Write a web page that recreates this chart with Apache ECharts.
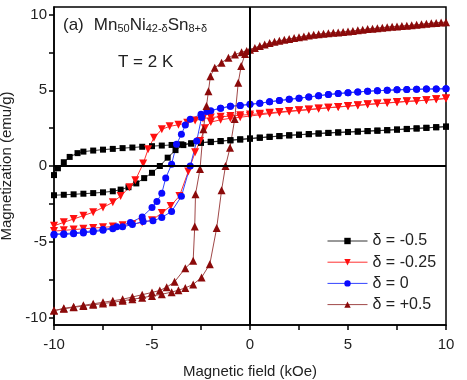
<!DOCTYPE html>
<html><head><meta charset="utf-8">
<script src="https://cdn.jsdelivr.net/npm/echarts@6/dist/echarts.min.js"></script>
<style>html,body{margin:0;padding:0;background:#fff}#c{width:467px;height:380px}</style>
</head><body><div id="c"></div>
<script>
// Series names
const seriesNames = ['δ = -0.5', 'δ = -0.25', 'δ = 0', 'δ = +0.5'];
// Axis tick values
const xTicks = [-10, -7.5, -5, -2.5, 0, 2.5, 5, 7.5, 10];
const xLabels = [-10, -5, 0, 5, 10];
const yTicks = [-10, -7.5, -5, -2.5, 0, 2.5, 5, 7.5, 10];
const yLabels = [-10, -5, 0, 5, 10];

// δ = -0.5 : descending (10 -> -10) and ascending (-10 -> 10) branches [H kOe, M emu/g]
const blackDown = [[10,2.6],[9.5,2.56],[9,2.52],[8.5,2.48],[8,2.45],[7.5,2.41],[7,2.37],[6.5,2.34],[6,2.31],[5.5,2.28],[5,2.25],[4.5,2.22],[4,2.19],[3.5,2.15],[3,2.11],[2.5,2.07],[2,2.03],[1.5,1.98],[1,1.93],[0.5,1.88],[0,1.82],[-0.5,1.76],[-1,1.7],[-1.5,1.64],[-2,1.58],[-2.5,1.53],[-3,1.48],[-3.5,1.43],[-4,1.39],[-4.5,1.35],[-5,1.31],[-5.5,1.27],[-6,1.22],[-6.5,1.18],[-7,1.13],[-7.5,1.08],[-8,1.02],[-8.5,0.95],[-8.8,0.85],[-9.2,0.6],[-9.5,0.25],[-9.8,-0.15],[-10,-0.6]];
const blackUp = [[-10,-1.93],[-9.5,-1.9],[-9,-1.87],[-8.5,-1.83],[-8,-1.79],[-7.5,-1.74],[-7,-1.67],[-6.6,-1.56],[-6.2,-1.4],[-5.8,-1.15],[-5.4,-0.8],[-5,-0.45],[-4.6,0.0],[-4.2,0.55],[-3.8,1.05],[-3.4,1.38],[-3,1.5],[-2.5,1.55],[-2,1.6],[-1.5,1.65],[-1,1.7],[-0.5,1.75],[0,1.8],[0.5,1.86],[1,1.92],[1.5,1.97],[2,2.02],[2.5,2.06],[3,2.1],[3.5,2.14],[4,2.18],[4.5,2.21],[5,2.24],[5.5,2.27],[6,2.3],[6.5,2.33],[7,2.36],[7.5,2.4],[8,2.44],[8.5,2.48],[9,2.52],[9.5,2.56],[10,2.6]];

// δ = -0.25
const redDown = [[10,4.46],[9.5,4.4],[9,4.35],[8.5,4.3],[8,4.27],[7.5,4.22],[7,4.17],[6.5,4.12],[6,4.07],[5.5,4.01],[5,3.96],[4.5,3.9],[4,3.85],[3.5,3.79],[3,3.73],[2.5,3.68],[2,3.63],[1.5,3.57],[1,3.51],[0.5,3.45],[0,3.4],[-0.5,3.35],[-1,3.3],[-1.5,3.25],[-2,3.2],[-2.4,3.14],[-2.8,3.0],[-3.2,2.86],[-3.65,2.72],[-4.1,2.62],[-4.5,2.42],[-4.9,1.87],[-5.2,1.1],[-5.45,0.16],[-5.85,-0.94],[-6.15,-1.4],[-6.6,-1.98],[-7,-2.4],[-7.5,-2.74],[-8,-3.05],[-8.5,-3.28],[-9,-3.5],[-9.5,-3.72],[-10,-3.95]];
const redUp = [[-10,-4.3],[-9.5,-4.25],[-9,-4.2],[-8.5,-4.15],[-8,-4.1],[-7.5,-4.05],[-7,-4.0],[-6.5,-3.92],[-6,-3.85],[-5.5,-3.72],[-5,-3.58],[-4.5,-3.1],[-4.05,-2.64],[-3.6,-1.98],[-3.15,-0.37],[-2.8,0.9],[-2.55,1.65],[-2.3,2.5],[-2,2.9],[-1.5,3.05],[-1,3.15],[-0.5,3.22],[0,3.3],[0.5,3.38],[1,3.46],[1.5,3.53],[2,3.6],[2.5,3.66],[3,3.72],[3.5,3.78],[4,3.84],[4.5,3.9],[5,3.95],[5.5,4.0],[6,4.06],[6.5,4.11],[7,4.16],[7.5,4.21],[8,4.26],[8.5,4.3],[9,4.35],[9.5,4.4],[10,4.46]];

// δ = 0
const blueDown = [[10,5.1],[9.5,5.09],[9,5.08],[8.5,5.07],[8,5.05],[7.5,5.03],[7,5.0],[6.5,4.97],[6,4.94],[5.5,4.89],[5,4.84],[4.5,4.78],[4,4.72],[3.5,4.64],[3,4.56],[2.5,4.48],[2,4.4],[1.5,4.32],[1,4.24],[0.5,4.15],[0,4.07],[-0.5,4.0],[-1,3.94],[-1.5,3.82],[-2,3.65],[-2.5,3.42],[-3.05,3.08],[-3.3,2.7],[-3.5,2.09],[-3.75,1.43],[-4,0.11],[-4.3,-0.8],[-4.5,-1.8],[-4.75,-2.35],[-5,-2.74],[-5.5,-3.36],[-6.1,-3.73],[-6.8,-4.02],[-7.5,-4.2],[-8,-4.28],[-8.5,-4.35],[-9,-4.42],[-9.5,-4.47],[-10,-4.5]];
const blueUp = [[-10,-4.55],[-9.5,-4.52],[-9,-4.48],[-8.5,-4.42],[-8,-4.35],[-7.5,-4.25],[-7,-4.15],[-6.5,-4.02],[-6,-3.87],[-5.45,-3.66],[-4.95,-3.62],[-4.5,-3.4],[-4,-3.0],[-3.5,-2.0],[-3.05,0.0],[-2.72,1.65],[-2.47,3.2],[-2.2,3.6],[-1.5,3.82],[-1,3.94],[-0.5,4.0],[0,4.07],[0.5,4.15],[1,4.24],[1.5,4.32],[2,4.4],[2.5,4.48],[3,4.56],[3.5,4.64],[4,4.72],[4.5,4.78],[5,4.84],[5.5,4.89],[6,4.94],[6.5,4.97],[7,5.0],[7.5,5.03],[8,5.05],[8.5,5.07],[9,5.08],[9.5,5.09],[10,5.1]];

// δ = +0.5
const brownDown = [[10,9.5],[9.5,9.45],[9,9.39],[8.5,9.32],[8,9.26],[7.5,9.22],[7,9.17],[6.5,9.1],[6,9.04],[5.5,8.96],[5,8.88],[4.5,8.82],[4,8.77],[3.5,8.7],[3,8.61],[2.5,8.5],[2,8.39],[1.5,8.27],[1,8.12],[0.5,7.92],[0,7.68],[-0.25,7.4],[-0.45,6.6],[-0.6,5.5],[-0.78,3.1],[-1.02,1.2],[-1.25,0.0],[-1.45,-1.6],[-1.7,-4.1],[-2.05,-6.48],[-2.47,-7.36],[-2.9,-7.82],[-3.3,-8.05],[-3.65,-8.2],[-4,-8.33],[-4.5,-8.47],[-5,-8.58],[-5.5,-8.7],[-6,-8.8],[-6.5,-8.9],[-7,-9.0],[-7.5,-9.08],[-8,-9.17],[-8.5,-9.25],[-9,-9.33],[-9.5,-9.43],[-10,-9.55]];
const brownUp = [[-10,-9.55],[-9.5,-9.4],[-9,-9.3],[-8.5,-9.2],[-8,-9.1],[-7.5,-9.0],[-7,-8.9],[-6.5,-8.8],[-6,-8.65],[-5.5,-8.5],[-5,-8.35],[-4.6,-8.22],[-4.25,-8.0],[-3.85,-7.65],[-3.3,-6.75],[-2.9,-6.25],[-2.82,-4.0],[-2.78,-1.87],[-2.55,-0.2],[-2.38,2.42],[-2.22,3.96],[-2.12,4.94],[-2.02,5.93],[-1.8,6.49],[-1.45,6.82],[-1.1,7.15],[-0.77,7.36],[-0.43,7.52],[-0.17,7.6],[0.25,7.8],[0.75,8.02],[1.25,8.2],[1.75,8.33],[2.25,8.45],[2.75,8.56],[3.25,8.66],[3.75,8.74],[4.25,8.8],[4.75,8.85],[5.25,8.92],[5.75,9.0],[6.25,9.07],[6.75,9.13],[7.25,9.2],[7.75,9.24],[8.25,9.29],[8.75,9.36],[9.25,9.42],[9.75,9.48]];

const FONT = 'Liberation Sans, Arial, sans-serif';
const chart = echarts.init(document.getElementById('c'), null, {renderer: 'canvas'});

function mk(name, down, up, color, lineColor, symbol, size, rotate) {
  return {
    name: name, type: 'line', data: down.concat(up),
    symbol: symbol, symbolSize: size, symbolRotate: rotate || 0,
    showAllSymbol: true,
    itemStyle: {color: color},
    lineStyle: {color: lineColor, width: 1},
    emphasis: {disabled: true}, animation: false, clip: true
  };
}

const series = [
  mk(seriesNames[0], blackDown, blackUp, '#000000', '#333333', 'rect', 6),
  mk(seriesNames[1], redDown, redUp, '#ff1010', '#ff3030', 'triangle', 8, 180),
  mk(seriesNames[2], blueDown, blueUp, '#0a0aff', '#3344ff', 'circle', 7),
  mk(seriesNames[3], brownDown, brownUp, '#8b0a0a', '#a04848', 'triangle', 8)
];
series[0].markLine = {
  silent: true, symbol: ['none', 'none'], label: {show: false}, animation: false,
  lineStyle: {color: '#000', width: 2, type: 'solid'},
  data: [{xAxis: 0}, {yAxis: 0}]
};

chart.setOption({
  animation: false,
  backgroundColor: '#fff',
  grid: {left: 54, right: 21, top: 7, bottom: 55, outerBoundsMode: 'none', containLabel: false, show: true, borderColor: '#000', borderWidth: 1.5, backgroundColor: 'transparent'},
  xAxis: {
    type: 'value', min: -10, max: 10, interval: 2.5,
    name: 'Magnetic field (kOe)', nameLocation: 'middle', nameGap: 39,
    nameTextStyle: {fontFamily: FONT, fontSize: 15, color: '#222'},
    axisLine: {onZero: false, lineStyle: {color: '#000', width: 1.5}},
    axisTick: {show: true, inside: false, length: 5, lineStyle: {color: '#000', width: 1.5}, customValues: xTicks},
    axisLabel: {fontFamily: FONT, fontSize: 15, color: '#222', margin: 12, customValues: xLabels},
    splitLine: {show: false}
  },
  yAxis: {
    type: 'value', min: -10.5, max: 10.5,
    name: 'Magnetization (emu/g)', nameLocation: 'middle', nameGap: 36, nameRotate: 90,
    nameTextStyle: {fontFamily: FONT, fontSize: 15, color: '#222'},
    axisLine: {onZero: false, lineStyle: {color: '#000', width: 1.5}},
    axisTick: {show: true, inside: false, length: 5, lineStyle: {color: '#000', width: 1.5}, customValues: yTicks},
    axisLabel: {fontFamily: FONT, fontSize: 15, color: '#222', margin: 7, customValues: yLabels},
    splitLine: {show: false}
  },
  legend: {
    orient: 'vertical', left: 327, top: 233, padding: 0,
    itemWidth: 40, itemHeight: 8, itemGap: 5.2,
    lineStyle: {width: 1},
    textStyle: {fontFamily: FONT, fontSize: 16, color: '#222'},
    data: seriesNames
  },
  graphic: [
    {type: 'text', left: 63, top: 17, silent: true,
     style: {
       text: '{a|(a)}{b|Mn}{s|50}{b|Ni}{s|42-δ}{b|Sn}{s|8+δ}',
       rich: {
         a: {fontFamily: FONT, fontSize: 17, fill: '#222', lineHeight: 24, verticalAlign: 'bottom', padding: [0, 10, 0, 0]},
         b: {fontFamily: FONT, fontSize: 17, fill: '#222', lineHeight: 24, verticalAlign: 'bottom'},
         s: {fontFamily: FONT, fontSize: 11, fill: '#222', lineHeight: 12, verticalAlign: 'bottom'}
       }
     }},
    {type: 'text', left: 118, top: 54, silent: true,
     style: {text: 'T = 2 K', fontFamily: FONT, fontSize: 17, fill: '#222'}}
  ],
  series: series
});
</script></body></html>
